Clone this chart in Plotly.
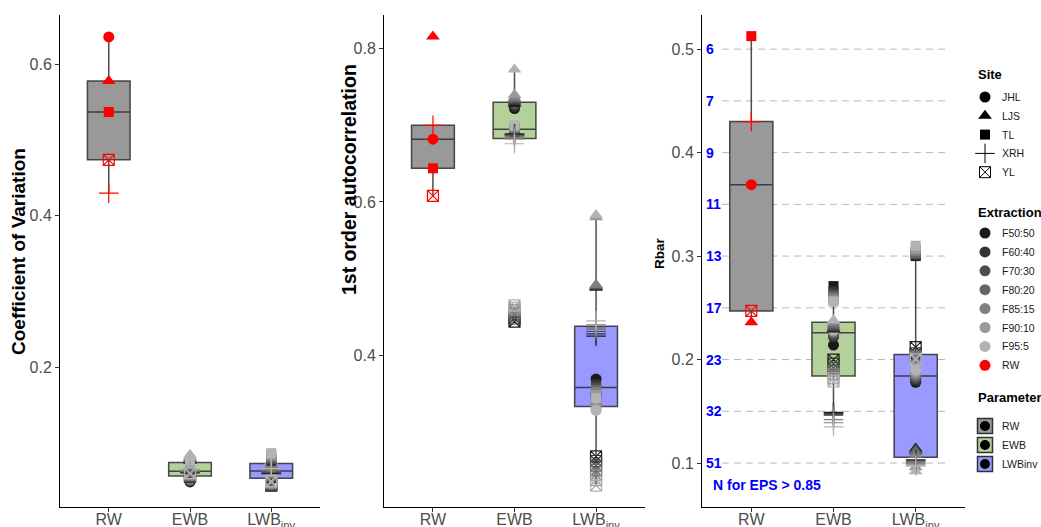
import plotly.graph_objects as go

# ---------------- data ----------------
sites = ["JHL", "LJS", "TL", "XRH", "YL"]
extractions = ["F50:50", "F60:40", "F70:30", "F80:20", "F85:15", "F90:10", "F95:5"]
parameters = ["RW", "EWB", "LWBinv"]
param_ticks = ["RW", "EWB", "LWB<sub>inv</sub>"]

# Coefficient of variation (panel 1); rows = sites, cols = extractions
cv_rw = [0.636, 0.578, 0.537, 0.430, 0.474]
cv_ewb = [
    [0.049, 0.050, 0.051, 0.052, 0.053, 0.055, 0.056],
    [0.077, 0.078, 0.079, 0.080, 0.081, 0.082, 0.085],
    [0.066, 0.068, 0.070, 0.072, 0.074, 0.0755, 0.077],
    [0.061, 0.062, 0.0625, 0.063, 0.064, 0.065, 0.066],
    [0.056, 0.057, 0.057, 0.058, 0.059, 0.060, 0.061],
]
cv_lwb = [
    [0.052, 0.053, 0.055, 0.056, 0.057, 0.058, 0.059],
    [0.068, 0.069, 0.070, 0.071, 0.0725, 0.074, 0.076],
    [0.077, 0.078, 0.079, 0.081, 0.083, 0.085, 0.087],
    [0.060, 0.061, 0.062, 0.0636, 0.065, 0.066, 0.067],
    [0.044, 0.045, 0.046, 0.047, 0.048, 0.049, 0.050],
]

# 1st order autocorrelation (panel 2)
ac_rw = [0.682, 0.816, 0.644, 0.700, 0.608]
ac_ewb = [
    [0.722, 0.725, 0.728, 0.730, 0.731, 0.732, 0.733],
    [0.728, 0.730, 0.732, 0.734, 0.736, 0.740, 0.773],
    [0.690, 0.692, 0.694, 0.695, 0.697, 0.699, 0.700],
    [0.689, 0.688, 0.687, 0.686, 0.684, 0.682, 0.676],
    [0.444, 0.448, 0.452, 0.455, 0.459, 0.462, 0.465],
]
ac_lwb = [
    [0.369, 0.350, 0.345, 0.340, 0.335, 0.331, 0.328],
    [0.488, 0.489, 0.490, 0.491, 0.492, 0.580, 0.583],
    [0.366, 0.362, 0.358, 0.355, 0.352, 0.348, 0.344],
    [0.425, 0.428, 0.431, 0.434, 0.436, 0.440, 0.445],
    [0.268, 0.262, 0.256, 0.250, 0.244, 0.237, 0.230],
]

# Rbar (panel 3)
rb_rw = [0.369, 0.236, 0.5126, 0.430, 0.247]
rb_ewb = [
    [0.214, 0.222, 0.224, 0.226, 0.227, 0.228, 0.229],
    [0.229, 0.230, 0.231, 0.233, 0.235, 0.237, 0.238],
    [0.271, 0.266, 0.263, 0.261, 0.259, 0.257, 0.256],
    [0.149, 0.148, 0.147, 0.146, 0.142, 0.139, 0.135],
    [0.200, 0.196, 0.192, 0.189, 0.186, 0.182, 0.179],
]
rb_lwb = [
    [0.178, 0.180, 0.182, 0.184, 0.186, 0.188, 0.190],
    [0.114, 0.113, 0.112, 0.111, 0.108, 0.096, 0.092],
    [0.300, 0.301, 0.302, 0.303, 0.305, 0.307, 0.310],
    [0.103, 0.102, 0.101, 0.100, 0.099, 0.098, 0.097],
    [0.212, 0.206, 0.204, 0.203, 0.202, 0.201, 0.200],
]

# Rbar levels and sample depth N for EPS > 0.85
eps_rbar = [0.5, 0.45, 0.4, 0.35, 0.3, 0.25, 0.2, 0.15, 0.1]
eps_n = ["6", "7", "9", "11", "13", "17", "23", "32", "51"]

panel_titles = ["Coefficient of Variation", "1st order autocorrelation", "Rbar"]
panel_ranges = [[0.016, 0.665], [0.202, 0.844], [0.0575, 0.533]]
panel_ticks = [[0.2, 0.4, 0.6], [0.4, 0.6, 0.8], [0.1, 0.2, 0.3, 0.4, 0.5]]

# ---------------- styles / layout constants ----------------
ext_colors = ["#1a1a1a", "#333333", "#4d4d4d", "#666666", "#808080", "#999999", "#b3b3b3"]
rw_color = "#ff0000"
site_symbols = ["circle", "triangle-up", "square", "cross-thin-open", "square-x-open"]
site_sizes = [11, 12, 10, 14, 11]
param_fills = ["#999999", "#b4d19c", "#9999ff"]
box_line = "rgba(45,45,45,0.85)"
FONT = "Liberation Sans, Arial, sans-serif"

W, H, MT, MB = 1041, 527, 15, 20
domains = [[60 / W, 320 / W], [384 / W, 645 / W], [702 / W, 965 / W]]
title_px = [18, 349, 659]
title_py = [252, 180, 253]
title_sizes = [19, 19.5, 13.5]

panels = [
    (cv_rw, cv_ewb, cv_lwb),
    (ac_rw, ac_ewb, ac_lwb),
    (rb_rw, rb_ewb, rb_lwb),
]

fig = go.Figure()

for p, (rw, ewb, lwb) in enumerate(panels):
    xa = "x" if p == 0 else f"x{p+1}"
    ya = "y" if p == 0 else f"y{p+1}"
    groups = [rw, [v for row in ewb for v in row], [v for row in lwb for v in row]]
    for k, vals in enumerate(groups):
        fig.add_trace(go.Box(
            x=[parameters[k]] * len(vals), y=vals, xaxis=xa, yaxis=ya,
            quartilemethod="inclusive", boxpoints="outliers", whiskerwidth=0,
            marker=dict(opacity=0, size=1),
            fillcolor=param_fills[k], line=dict(color=box_line, width=1.5),
            showlegend=False, hoverinfo="skip",
        ))
    for s in range(len(sites)):
        fig.add_trace(go.Scatter(
            x=["RW"], y=[rw[s]], xaxis=xa, yaxis=ya, mode="markers",
            marker=dict(symbol=site_symbols[s], size=site_sizes[s], color=rw_color,
                        line=dict(color=rw_color, width=1.2 if s >= 3 else 0)),
            showlegend=False, hoverinfo="skip",
        ))
    for k, mat in ((1, ewb), (2, lwb)):
        for s in range(len(sites)):
            fig.add_trace(go.Scatter(
                x=[parameters[k]] * len(mat[s]), y=mat[s], xaxis=xa, yaxis=ya, mode="markers",
                marker=dict(symbol=site_symbols[s], size=site_sizes[s], color=ext_colors,
                            line=dict(color=ext_colors, width=1.2 if s >= 3 else 0)),
                showlegend=False, hoverinfo="skip",
            ))

# ---------------- hand-built legend on a hidden pixel axis ----------------
annotations = []
LEG_SYM_X, LEG_TXT_X, LEG_TTL_X = 985, 1000, 976
legend_blocks = [
    ("Site", 74, 97, 18.8),
    ("Extraction", 212, 233, 18.9),
    ("Parameter", 397, 426, 19.0),
]
item_font = dict(family=FONT, size=10.5, color="#1a1a1a")
title_font = dict(family=FONT, size=13, color="black", weight="bold")


def add_leg_text(text, x, y, font):
    annotations.append(dict(text=text, x=x, y=y, xref="x4", yref="y4", xanchor="left",
                            yanchor="middle", showarrow=False, font=font))


ttl, ty, y0, dy = legend_blocks[0]
add_leg_text(ttl, LEG_TTL_X, ty, title_font)
for s in range(len(sites)):
    yy = y0 + dy * s
    fig.add_trace(go.Scatter(
        x=[LEG_SYM_X], y=[yy], xaxis="x4", yaxis="y4", mode="markers",
        marker=dict(symbol=site_symbols[s], size=site_sizes[s], color="black",
                    line=dict(color="black", width=1 if s >= 3 else 0)),
        showlegend=False, hoverinfo="skip", cliponaxis=False))
    add_leg_text(sites[s], LEG_TXT_X, yy, item_font)

ttl, ty, y0, dy = legend_blocks[1]
add_leg_text(ttl, LEG_TTL_X, ty, title_font)
ext_names = extractions + ["RW"]
ext_cols = ext_colors + [rw_color]
for e in range(len(ext_names)):
    yy = y0 + dy * e
    fig.add_trace(go.Scatter(
        x=[LEG_SYM_X], y=[yy], xaxis="x4", yaxis="y4", mode="markers",
        marker=dict(symbol="circle", size=11, color=ext_cols[e]),
        showlegend=False, hoverinfo="skip", cliponaxis=False))
    add_leg_text(ext_names[e], LEG_TXT_X, yy, item_font)

ttl, ty, y0, dy = legend_blocks[2]
add_leg_text(ttl, LEG_TTL_X, ty, title_font)
for k in range(len(parameters)):
    yy = y0 + dy * k
    fig.add_trace(go.Scatter(
        x=[LEG_SYM_X], y=[yy], xaxis="x4", yaxis="y4", mode="markers",
        marker=dict(symbol="square", size=15, color=param_fills[k],
                    line=dict(color="#333333", width=1.5)),
        showlegend=False, hoverinfo="skip", cliponaxis=False))
    fig.add_trace(go.Scatter(
        x=[LEG_SYM_X], y=[yy], xaxis="x4", yaxis="y4", mode="markers",
        marker=dict(symbol="circle", size=10, color="black"),
        showlegend=False, hoverinfo="skip", cliponaxis=False))
    add_leg_text(parameters[k], LEG_TXT_X, yy, item_font)

# ---------------- axes ----------------
axis_common = dict(
    showline=True, linecolor="black", linewidth=1, ticks="outside", ticklen=4,
    tickcolor="#333333", tickwidth=1, showgrid=False, zeroline=False, automargin=False,
    tickfont=dict(family=FONT, size=16, color="#4d4d4d"),
)
layout = {}
for p in range(3):
    xk = "xaxis" if p == 0 else f"xaxis{p+1}"
    yk = "yaxis" if p == 0 else f"yaxis{p+1}"
    ya = "y" if p == 0 else f"y{p+1}"
    xa = "x" if p == 0 else f"x{p+1}"
    layout[xk] = dict(axis_common, domain=domains[p], anchor=ya, type="category",
                      categoryorder="array", categoryarray=parameters, ticklabelstandoff=-6,
                      tickvals=parameters, ticktext=param_ticks, range=[-0.6, 2.6])
    layout[yk] = dict(axis_common, domain=[0, 1], anchor=xa, range=panel_ranges[p],
                      tickvals=panel_ticks[p], ticktext=[f"{t:.1f}" for t in panel_ticks[p]])
layout["xaxis4"] = dict(domain=[950 / W, 1], range=[950, W], visible=False, anchor="y4",
                        automargin=False)
layout["yaxis4"] = dict(domain=[0, 1], range=[H - MB, MT], visible=False, anchor="x4",
                        automargin=False)

plot_h = H - MT - MB
for p in range(3):
    annotations.append(dict(
        text=panel_titles[p], x=title_px[p] / W, y=(H - MB - title_py[p]) / plot_h,
        xref="paper", yref="paper",
        xanchor="center", yanchor="middle", textangle=-90, showarrow=False,
        font=dict(family=FONT, size=title_sizes[p], color="black", weight="bold"),
    ))

shapes = []
for r, n in zip(eps_rbar, eps_n):
    shapes.append(dict(type="line", xref="x3 domain", yref="y3", x0=0.076, x1=1, y0=r, y1=r,
                       line=dict(color="#b8b8b8", width=1, dash="7px,5px"), layer="below"))
    annotations.append(dict(
        text=n, x=0, y=r, xref="x3 domain", yref="y3", xanchor="left", yanchor="middle",
        xshift=2, showarrow=False, font=dict(family=FONT, size=14, color="#0000ff", weight="bold"),
    ))
annotations.append(dict(
    text="N for EPS > 0.85", x=0.034, y=0.0787, xref="x3 domain", yref="y3",
    xanchor="left", yanchor="middle", showarrow=False,
    font=dict(family=FONT, size=14, color="#0000ff", weight="bold"),
))

fig.update_layout(
    width=W, height=H,
    margin=dict(l=0, r=0, t=MT, b=MB, autoexpand=False),
    paper_bgcolor="white", plot_bgcolor="white",
    boxgap=0.25, boxmode="overlay", showlegend=False,
    font=dict(family=FONT, color="#1a1a1a"),
    annotations=annotations, shapes=shapes,
    **layout,
)

fig.write_html("out.html", config={"displayModeBar": False},
               post_script="document.body.style.margin='0px';document.body.style.overflow='hidden';")
